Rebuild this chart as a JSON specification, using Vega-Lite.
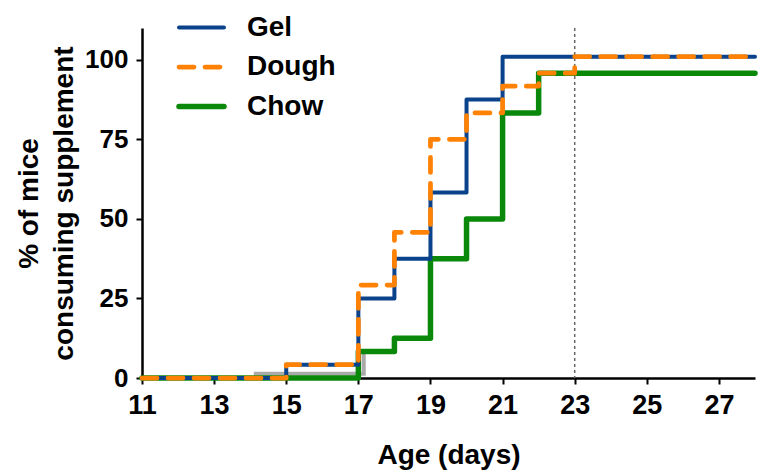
{
  "$schema": "https://vega.github.io/schema/vega-lite/v6.json",
  "autosize": {"type": "none"},
  "width": 613,
  "height": 350,
  "padding": {"left": 142, "top": 28, "right": 3, "bottom": 95},
  "background": "white",
  "config": {
    "view": {"stroke": null},
    "font": "Liberation Sans",
    "axis": {
      "domainColor": "black", "domainWidth": 2.5, "tickColor": "black", "tickWidth": 2,
      "labelColor": "black", "labelFont": "Liberation Sans", "labelFontWeight": "bold",
      "titleColor": "black", "titleFont": "Liberation Sans", "titleFontWeight": "bold",
      "grid": false
    }
  },
  "datasets": {
    "series": [
      {"day": 11, "pct": 0, "diet": "Gel"},
      {"day": 15, "pct": 4.2, "diet": "Gel"},
      {"day": 17, "pct": 25, "diet": "Gel"},
      {"day": 18, "pct": 37.5, "diet": "Gel"},
      {"day": 19, "pct": 58.3, "diet": "Gel"},
      {"day": 20, "pct": 87.5, "diet": "Gel"},
      {"day": 21, "pct": 101, "diet": "Gel"},
      {"day": 28, "pct": 101, "diet": "Gel"},
      {"day": 11, "pct": 0, "diet": "Dough"},
      {"day": 15, "pct": 4.2, "diet": "Dough"},
      {"day": 17, "pct": 29.2, "diet": "Dough"},
      {"day": 18, "pct": 45.8, "diet": "Dough"},
      {"day": 19, "pct": 75, "diet": "Dough"},
      {"day": 20, "pct": 83.3, "diet": "Dough"},
      {"day": 21, "pct": 91.7, "diet": "Dough"},
      {"day": 22, "pct": 95.8, "diet": "Dough"},
      {"day": 23, "pct": 101, "diet": "Dough"},
      {"day": 28, "pct": 101, "diet": "Dough"},
      {"day": 11, "pct": 0, "diet": "Chow"},
      {"day": 17, "pct": 8.3, "diet": "Chow"},
      {"day": 18, "pct": 12.5, "diet": "Chow"},
      {"day": 19, "pct": 37.5, "diet": "Chow"},
      {"day": 20, "pct": 50, "diet": "Chow"},
      {"day": 21, "pct": 83.3, "diet": "Chow"},
      {"day": 22, "pct": 95.8, "diet": "Chow"},
      {"day": 28, "pct": 95.8, "diet": "Chow"}
    ],
    "gray": [
      {"day": 14.1, "pct": 1.3},
      {"day": 17.15, "pct": 8.3},
      {"day": 17.2, "pct": 8.3}
    ],
    "ref": [{"day": 23}]
  },
  "encoding": {
    "x": {
      "field": "day", "type": "quantitative",
      "scale": {"domain": [11, 28], "nice": false, "zero": false},
      "axis": {"values": [11, 13, 15, 17, 19, 21, 23, 25, 27], "title": "Age (days)", "labelFontSize": 27, "labelPadding": 8, "tickSize": 6, "titleFontSize": 28, "titlePadding": 23, "labelFlush": false}
    }
  },
  "layer": [
    {
      "data": {"name": "ref"},
      "mark": {"type": "rule", "color": "#666666", "strokeWidth": 1.5, "strokeDash": [3, 3]},
      "encoding": {}
    },
    {
      "data": {"name": "gray"},
      "mark": {"type": "line", "interpolate": "step-after", "color": "#aaaaaa", "strokeWidth": 4},
      "encoding": {
        "y": {
          "field": "pct", "type": "quantitative",
          "scale": {"domain": [0, 110], "nice": false},
          "axis": {"values": [0, 25, 50, 75, 100], "title": ["% of mice", "consuming supplement"], "labelFontSize": 26, "labelPadding": 8, "tickSize": 6, "titleFontSize": 28, "titleLineHeight": 35, "titlePadding": 6}
        }
      }
    },
    {
      "data": {"name": "series"},
      "transform": [{"filter": "datum.diet === 'Chow'"}],
      "mark": {"type": "line", "interpolate": "step-after", "strokeCap": "round", "strokeJoin": "round"},
      "encoding": {
        "y": {"field": "pct", "type": "quantitative"},
        "color": {
          "field": "diet", "type": "nominal",
          "scale": {"domain": ["Gel", "Dough", "Chow"], "range": ["#0a438c", "#ff8205", "#0a880a"]},
          "legend": {
            "title": null, "orient": "none", "legendX": 34, "legendY": -25, "padding": 0,
            "symbolType": "stroke", "symbolSize": 2025, "labelFontSize": 28, "labelFontWeight": "bold",
            "labelColor": "black", "labelFont": "Liberation Sans", "labelOffset": 20, "rowPadding": 0,
            "encode": {"symbols": {"update": {"strokeCap": {"value": "round"}}}}
          }
        },
        "strokeDash": {
          "field": "diet", "type": "nominal",
          "scale": {"domain": ["Gel", "Dough", "Chow"], "range": [[1, 0], [15, 11], [1, 0]]}
        },
        "strokeWidth": {
          "field": "diet", "type": "nominal",
          "scale": {"domain": ["Gel", "Dough", "Chow"], "range": [4, 5.5, 5]}
        }
      }
    },
    {
      "data": {"name": "series"},
      "transform": [{"filter": "datum.diet === 'Gel'"}],
      "mark": {"type": "line", "interpolate": "step-after", "strokeCap": "round", "strokeJoin": "round"},
      "encoding": {
        "y": {"field": "pct", "type": "quantitative"},
        "color": {"field": "diet", "type": "nominal"},
        "strokeDash": {"field": "diet", "type": "nominal"},
        "strokeWidth": {"field": "diet", "type": "nominal"}
      }
    },
    {
      "data": {"name": "series"},
      "transform": [{"filter": "datum.diet === 'Dough'"}],
      "mark": {"type": "line", "interpolate": "step-after", "strokeCap": "round", "strokeJoin": "round"},
      "encoding": {
        "y": {"field": "pct", "type": "quantitative"},
        "color": {"field": "diet", "type": "nominal"},
        "strokeDash": {"field": "diet", "type": "nominal"},
        "strokeWidth": {"field": "diet", "type": "nominal"}
      }
    }
  ]
}
